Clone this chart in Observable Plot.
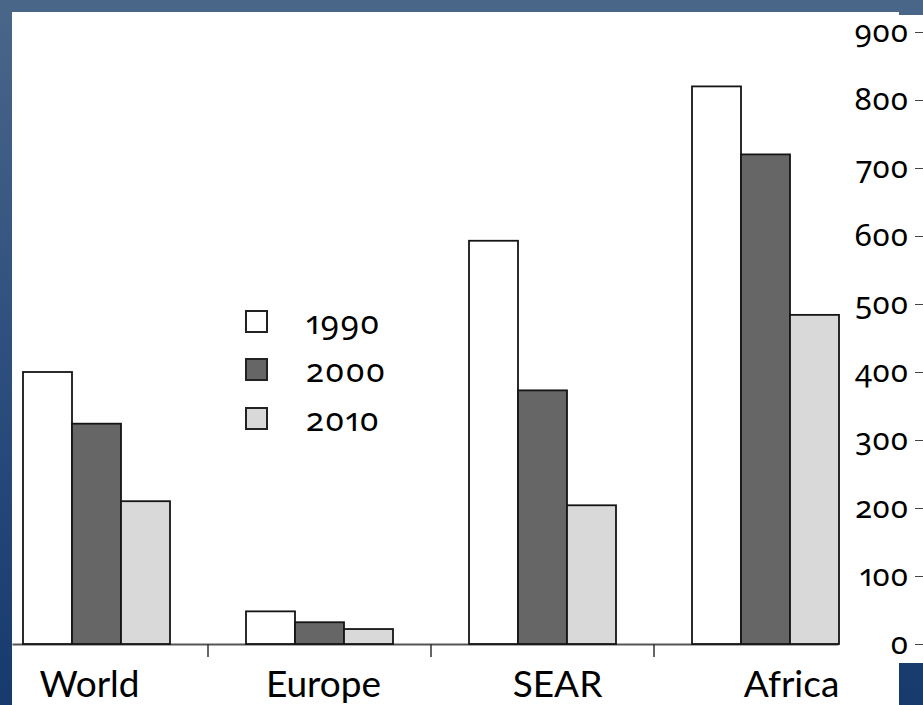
<!DOCTYPE html>
<html>
<head>
<meta charset="utf-8">
<script src="https://cdn.jsdelivr.net/npm/d3@7"></script>
<script src="https://cdn.jsdelivr.net/npm/@observablehq/plot@0.6"></script>
<style>
  html, body { margin: 0; padding: 0; }
  body {
    width: 923px; height: 705px; overflow: hidden; position: relative;
    background: linear-gradient(to bottom, #4a6689 0%, #2e4f7e 50%, #163a6c 100%);
    font-family: Lato, "Open Sans", sans-serif;
  }
  .panel { position: absolute; background: #fff; }
  #clip { position: absolute; left: 12px; top: 0px; width: 911px; height: 705px; overflow: hidden; }
  #clip svg { position: absolute; left: -12px; top: 0px; max-width: none !important; width: 923px; height: 705px; }
  #legend { position: absolute; left: 245px; top: 297px; }
  .row { display: flex; align-items: center; height: 48.5px; }
  .sw { width: 19px; height: 19px; border: 2px solid #222; box-sizing: content-box; }
  .lab { margin-left: 38px; font-family: "Noto Sans", sans-serif; font-size: 33px; color: #000;
         font-variant-numeric: oldstyle-nums proportional-nums; line-height: 1; letter-spacing: 1px; }
</style>
</head>
<body>
<div class="panel" style="left:12px;top:12px;width:887px;height:693px"></div>
<div class="panel" style="left:899px;top:15px;width:24px;height:648px"></div>
<div id="clip"></div>
<div id="legend"></div>
<script>
const categories = ["World", "Europe", "SEAR", "Africa"];
const years = ["1990", "2000", "2010"];
const v1990 = [400, 48, 593, 820];
const v2000 = [324, 32, 373, 720];
const v2010 = [210, 22, 204, 484];
const yTicks = [0, 100, 200, 300, 400, 500, 600, 700, 800, 900];
const yearColors = ["#ffffff", "#666666", "#d9d9d9"];

const series = [v1990, v2000, v2010];
const data = categories.flatMap((c, i) => years.map((y, j) => ({category: c, year: y, value: series[j][i]})));

const main = Plot.plot({
  width: 923, height: 705,
  marginTop: 32, marginBottom: 61, marginLeft: 22, marginRight: 83,
  fx: {domain: categories, paddingInner: 0.342, paddingOuter: 0, label: null},
  x: {domain: years, padding: 0, axis: null},
  y: {domain: [0, 900], label: null},
  color: {domain: years, range: yearColors},
  style: {background: "transparent", overflow: "visible", fontFamily: "Lato, sans-serif"},
  marks: [
    Plot.frame({facet: "super", anchor: "bottom", stroke: "#555", strokeWidth: 2, insetLeft: -10, insetRight: 2}),
    Plot.barY(data, {fx: "category", x: "year", y: "value", fill: "year", stroke: "#151515", strokeWidth: 1.8}),
    Plot.axisFx({anchor: "bottom", tickSize: 13, tickFormat: () => "", dx: -112, stroke: "#333", strokeWidth: 1.5, label: null}),
    Plot.axisY({anchor: "right", ticks: yTicks, tickSize: 0, tickPadding: 0, textAnchor: "end", dx: 69,
      tickFormat: d => String(d), fontSize: 31, fill: "#000", fontFamily: "'Noto Sans', sans-serif",
      fontVariant: "oldstyle-nums proportional-nums", label: null}),
    Plot.axisY({anchor: "right", ticks: yTicks, tickSize: 8, dx: 75, tickFormat: () => "", stroke: "#444", label: null})
  ]
});

const labels = Plot.plot({
  width: 923, height: 705, marginBottom: 20,
  x: {type: "point", domain: categories, range: [89, 791], padding: 0, axis: null},
  style: {background: "transparent", overflow: "visible"},
  marks: [
    Plot.text(categories, {x: d => d, frameAnchor: "bottom", lineAnchor: "middle", fontSize: 37, fill: "#000", fontFamily: "Lato, sans-serif"})
  ]
});

const clip = document.getElementById("clip");
clip.appendChild(main);
clip.appendChild(labels);

const legend = document.getElementById("legend");
years.forEach((y, i) => {
  const row = document.createElement("div");
  row.className = "row";
  const sw = document.createElement("div");
  sw.className = "sw";
  sw.style.background = yearColors[i];
  const lab = document.createElement("div");
  lab.className = "lab";
  lab.textContent = y;
  row.appendChild(sw);
  row.appendChild(lab);
  legend.appendChild(row);
});
</script>
</body>
</html>
